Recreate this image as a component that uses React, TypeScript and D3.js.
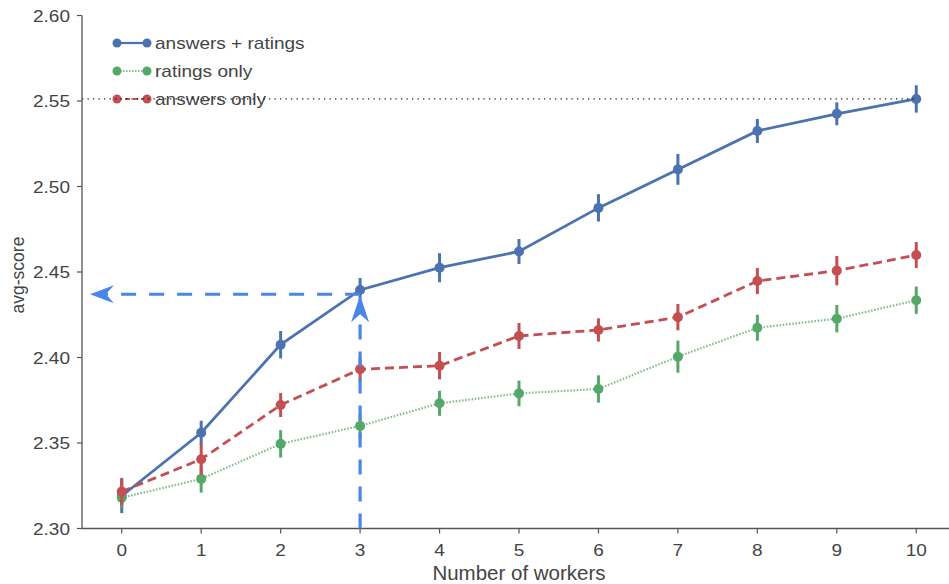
import React from "react";
import * as d3 from "d3";

const workers = [0, 1, 2, 3, 4, 5, 6, 7, 8, 9, 10];
const answersRatings = [2.319, 2.356, 2.4075, 2.4395, 2.4525, 2.462, 2.4875, 2.51, 2.5325, 2.5425, 2.5512];
const answersRatingsErr = [0.01, 0.007, 0.008, 0.007, 0.0085, 0.0073, 0.008, 0.009, 0.007, 0.0067, 0.008];
const ratingsOnly = [2.318, 2.329, 2.3495, 2.36, 2.3732, 2.379, 2.3816, 2.4005, 2.4174, 2.4227, 2.4335];
const ratingsOnlyErr = [0.006, 0.008, 0.008, 0.007, 0.0073, 0.0075, 0.008, 0.0094, 0.0076, 0.008, 0.008];
const answersOnly = [2.3216, 2.3405, 2.3722, 2.3931, 2.3952, 2.4126, 2.4161, 2.4236, 2.4447, 2.4508, 2.4599];
const answersOnlyErr = [0.008, 0.009, 0.007, 0.007, 0.008, 0.0076, 0.0068, 0.0077, 0.0076, 0.0086, 0.0076];
const yTicks = [2.3, 2.35, 2.4, 2.45, 2.5, 2.55, 2.6];
const seriesNames = ["answers + ratings", "ratings only", "answers only"];
const annotX = 3;
const annotY = 2.437;

const W = 949;
const H = 584;

export default function App() {
  const x = d3.scaleLinear().domain([-0.5, 10.5]).range([82, 956]);
  const y = d3.scaleLinear().domain([2.3, 2.6]).range([528.5, 15.5]);

  const series = [
    { name: seriesNames[0], vals: answersRatings, err: answersRatingsErr, color: "#4c72b0", dash: undefined as string | undefined, width: 2.8, opacity: 1 },
    { name: seriesNames[1], vals: ratingsOnly, err: ratingsOnlyErr, color: "#55a868", dash: "1.6,1.6", width: 2.2, opacity: 0.75 },
    { name: seriesNames[2], vals: answersOnly, err: answersOnlyErr, color: "#c44e52", dash: "9,5", width: 2.8, opacity: 1 },
  ];

  const line = d3
    .line<number>()
    .x((_, i) => x(workers[i]))
    .y((v) => y(v));

  const textColor = "#444";
  const axisColor = "#555";
  const font = "'Liberation Sans', Arial, sans-serif";
  const stretch = 1.12;
  const annColor = "#4a86e8";

  const ax = x(annotX);
  const ay = y(annotY);
  const hTip = x(-0.4);
  const vTip = y(annotY) + 1;

  return (
    <svg width={W} height={H} style={{ position: "absolute", left: 0, top: 0, background: "#fff" }} fontFamily={font}>
      <rect x={0} y={0} width={W} height={H} fill="#fff" />
      <line x1={82} x2={82} y1={y(2.6)} y2={y(2.3)} stroke={axisColor} strokeWidth={1.3} />
      <line x1={82} x2={956} y1={y(2.3)} y2={y(2.3)} stroke={axisColor} strokeWidth={1.3} />
      {yTicks.map((t) => (
        <g key={t}>
          <line x1={77} x2={82} y1={y(t)} y2={y(t)} stroke={axisColor} strokeWidth={1.2} />
          <g transform={`translate(70,${y(t) + 6}) scale(${stretch},1)`}>
            <text textAnchor="end" fontSize={17} fill={textColor}>
              {t.toFixed(2)}
            </text>
          </g>
        </g>
      ))}
      {workers.map((w) => (
        <g key={w}>
          <line x1={x(w)} x2={x(w)} y1={y(2.3)} y2={y(2.3) + 5} stroke={axisColor} strokeWidth={1.2} />
          <g transform={`translate(${x(w)},${556}) scale(${stretch},1)`}>
            <text textAnchor="middle" fontSize={17} fill={textColor}>
              {w}
            </text>
          </g>
        </g>
      ))}
      <text x={519} y={580} textAnchor="middle" fontSize={20.5} fill={textColor}>
        Number of workers
      </text>
      <text transform={`translate(24,275) rotate(-90)`} textAnchor="middle" fontSize={17.5} fill={textColor}>
        avg-score
      </text>

      {series.map((s) => (
        <g key={s.name}>
          <path d={line(s.vals) || ""} fill="none" stroke={s.color} strokeWidth={s.width} strokeDasharray={s.dash} opacity={s.opacity} />
          {s.vals.map((v, i) => (
            <line key={"e" + i} x1={x(workers[i])} x2={x(workers[i])} y1={y(v - s.err[i])} y2={y(v + s.err[i])} stroke={s.color} strokeWidth={3} />
          ))}
          {s.vals.map((v, i) => (
            <circle key={"c" + i} cx={x(workers[i])} cy={y(v)} r={5} fill={s.color} />
          ))}
        </g>
      ))}

      {series.map((s, i) => {
        const ly = 43 + i * 28;
        return (
          <g key={"lg" + i}>
            <line x1={117} x2={147} y1={ly} y2={ly} stroke={s.color} strokeWidth={s.width * 0.8} strokeDasharray={s.dash ? (i === 1 ? "1.5,1.5" : "5,3") : undefined} opacity={s.opacity} />
            <circle cx={117} cy={ly} r={4.5} fill={s.color} />
            <circle cx={147} cy={ly} r={4.5} fill={s.color} />
            <g transform={`translate(155,${ly + 6}) scale(${stretch},1)`}>
              <text fontSize={17} fill={textColor}>
                {s.name}
              </text>
            </g>
          </g>
        );
      })}

      <line x1={82} x2={x(10)} y1={y(answersRatings[10])} y2={y(answersRatings[10])} stroke="#222" strokeWidth={1.2} strokeDasharray="1.3,4.2" />

      <line x1={ax} x2={hTip + 16} y1={ay} y2={ay} stroke={annColor} strokeWidth={3.2} strokeDasharray="15,13" />
      <path d={`M${hTip},${ay} L${hTip + 24},${ay - 9} L${hTip + 16},${ay} L${hTip + 24},${ay + 9} Z`} fill={annColor} />
      <line x1={ax} x2={ax} y1={y(2.3)} y2={vTip + 19} stroke={annColor} strokeWidth={3.2} strokeDasharray="15,12" />
      <path d={`M${ax},${vTip} L${ax - 9},${vTip + 27} L${ax},${vTip + 19} L${ax + 9},${vTip + 27} Z`} fill={annColor} />
    </svg>
  );
}
